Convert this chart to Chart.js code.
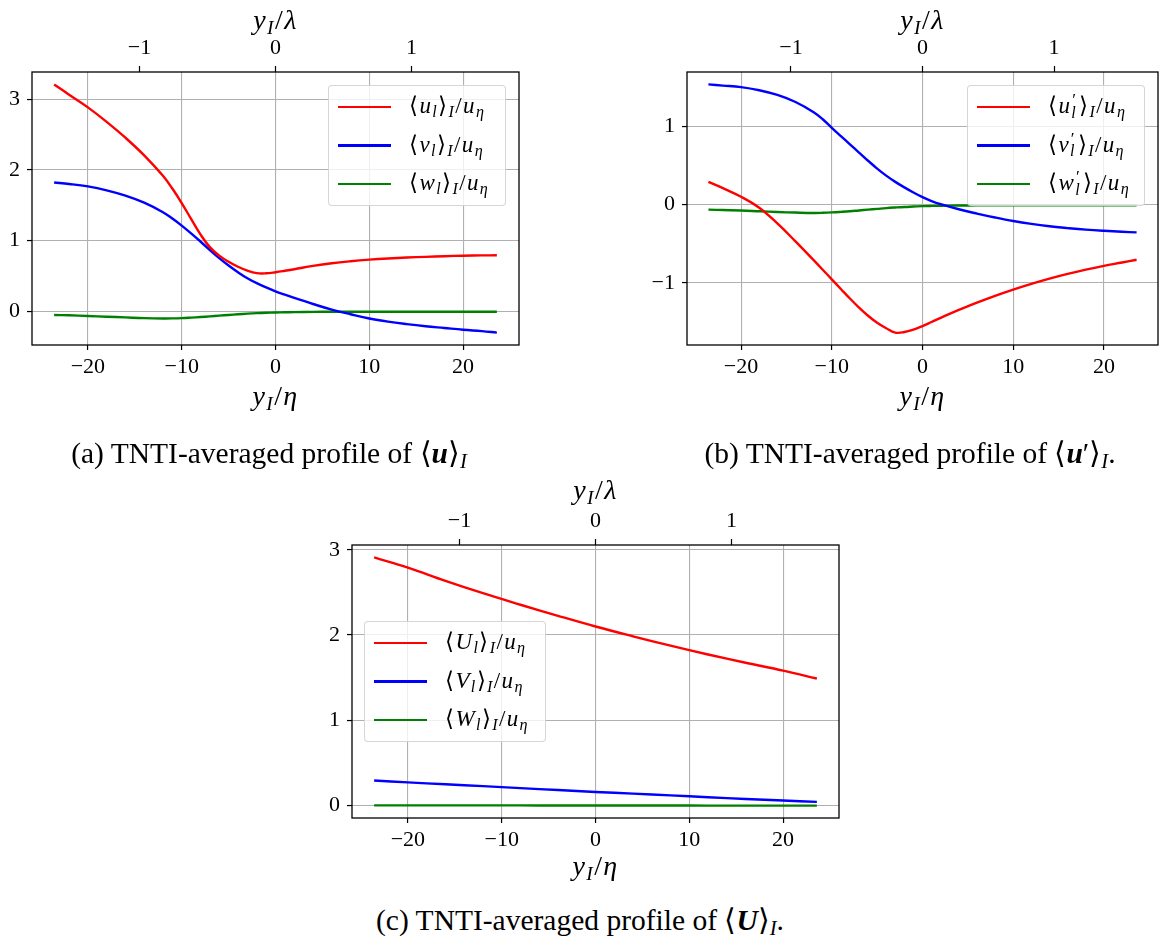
<!DOCTYPE html>
<html>
<head>
<meta charset="utf-8">
<script src="https://cdn.jsdelivr.net/npm/chart.js@4.4.0/dist/chart.umd.min.js"></script>
<style>
  body { margin: 0; background: #fff; width: 1161px; height: 945px; position: relative; overflow: hidden; font-family: "Liberation Serif", serif; }
  canvas { position: absolute; }
  .t { position: absolute; transform: translate(-50%, -50%); white-space: nowrap; color: #000; }
  .ax { font-size: 28px; font-style: italic; letter-spacing: 0.05em; }
  .cap { font-size: 29.5px; }
  .r { font-style: normal; }
  sub { font-size: 0.7em; vertical-align: -0.25em; line-height: 0; }
  .pl { display: inline-block; position: relative; width: 0.34em; height: 0; }
  .pl .p { position: absolute; left: 0.05em; top: -1.25em; font-style: normal; font-size: 0.75em; line-height: 1; }
  .pl .s { position: absolute; left: 0; top: -0.5em; font-size: 0.7em; line-height: 1; }
  .leg { position: absolute; background: rgba(255,255,255,0.8); border: 1px solid rgba(204,204,204,0.8); border-radius: 4px; box-sizing: border-box; }
  .sw { position: absolute; left: 9px; width: 53px; height: 2.5px; }
  .lt { position: absolute; left: 80px; transform: translateY(-55%); font-size: 23px; font-style: italic; letter-spacing: 0.06em; white-space: nowrap; }
</style>
</head>
<body>
<script>
// interface position y_I / eta, panels (a) and (b)
const xEta = [-23.6, -22, -20, -18, -16, -14, -12, -11, -10, -9, -8, -7, -6, -5, -4, -3, -2, -1, 0, 1, 2, 4, 6, 8, 10, 12, 14, 16, 18, 20, 22, 23.6];

// (a) <u_l>, <v_l>, <w_l>
const uMean = [3.21, 3.065, 2.885, 2.68, 2.455, 2.205, 1.915, 1.735, 1.53, 1.305, 1.085, 0.905, 0.785, 0.697, 0.627, 0.572, 0.537, 0.535, 0.55, 0.57, 0.592, 0.64, 0.678, 0.706, 0.728, 0.745, 0.758, 0.768, 0.777, 0.784, 0.788, 0.79];
const vMean = [1.82, 1.80, 1.765, 1.71, 1.635, 1.535, 1.40, 1.31, 1.21, 1.10, 0.985, 0.865, 0.75, 0.645, 0.55, 0.465, 0.395, 0.335, 0.28, 0.232, 0.186, 0.10, 0.02, -0.045, -0.105, -0.15, -0.185, -0.215, -0.24, -0.265, -0.285, -0.305];
const wMean = [-0.055, -0.06, -0.07, -0.08, -0.09, -0.10, -0.105, -0.104, -0.10, -0.093, -0.085, -0.075, -0.065, -0.055, -0.045, -0.037, -0.03, -0.025, -0.02, -0.017, -0.015, -0.012, -0.01, -0.01, -0.01, -0.01, -0.01, -0.01, -0.01, -0.01, -0.01, -0.01];

// (b) <u'_l>, <v'_l>, <w'_l>
const uFluc = [0.29, 0.21, 0.10, -0.04, -0.24, -0.47, -0.71, -0.832, -0.955, -1.078, -1.20, -1.315, -1.42, -1.51, -1.58, -1.635, -1.628, -1.597, -1.552, -1.50, -1.447, -1.345, -1.252, -1.165, -1.085, -1.012, -0.945, -0.885, -0.83, -0.782, -0.74, -0.705];
const vFluc = [1.535, 1.52, 1.50, 1.46, 1.40, 1.31, 1.18, 1.09, 0.98, 0.875, 0.77, 0.665, 0.56, 0.46, 0.37, 0.29, 0.22, 0.155, 0.095, 0.045, 0.005, -0.06, -0.115, -0.165, -0.21, -0.247, -0.277, -0.30, -0.32, -0.335, -0.347, -0.355];
const wFluc = [-0.065, -0.07, -0.075, -0.085, -0.095, -0.102, -0.107, -0.105, -0.10, -0.093, -0.085, -0.075, -0.065, -0.055, -0.045, -0.037, -0.03, -0.025, -0.02, -0.017, -0.015, -0.012, -0.01, -0.01, -0.01, -0.01, -0.01, -0.01, -0.01, -0.01, -0.01, -0.01];

// (c) <U_l>, <V_l>, <W_l>
const xEtaC = [-23.6, -20, -16, -12, -8, -4, 0, 4, 8, 12, 16, 20, 23.6];
const UMean = [2.91, 2.79, 2.635, 2.49, 2.355, 2.225, 2.10, 1.985, 1.875, 1.772, 1.675, 1.582, 1.49];
const VMean = [0.294, 0.272, 0.25, 0.228, 0.205, 0.182, 0.16, 0.14, 0.12, 0.098, 0.078, 0.059, 0.043];
const WMean = [0.002, 0.002, 0.002, 0.002, 0.002, 0.001, 0.001, 0.001, 0.001, 0.0, 0.0, 0.0, 0.0];

// tick labels
const etaTicks = [-20, -10, 0, 10, 20];
const lambdaTicks = [-1, 0, 1];
const yTicksA = [0, 1, 2, 3];
const yTicksB = [-1, 0, 1];
const yTicksC = [0, 1, 2, 3];
const etaPerLambda = 14.5;

const colors = ['#ff0000', '#0000ff', '#008000'];

function lbl(sym, prime) {
  const s = prime ? '<span class="pl"><span class="p">′</span><span class="s">l</span></span>' : '<sub>l</sub>';
  return '<span class="r">⟨</span>' + sym + s + '<span class="r">⟩</span><sub>I</sub><span class="r">/</span>u<sub>η</sub>';
}

const panels = [
  { left: 0, top: 0, w: 560, h: 420, yW: 32, topH: 72, botH: 75, padR: 41,
    x: xEta, series: [uMean, vMean, wMean], yTicks: yTicksA,
    names: [lbl('u'), lbl('v'), lbl('w')], leg: [328, 85, 178] },
  { left: 620, top: 0, w: 541, h: 420, yW: 67, topH: 72, botH: 75, padR: 3,
    x: xEta, series: [uFluc, vFluc, wFluc], yTicks: yTicksB,
    names: [lbl('u', true), lbl('v', true), lbl('w', true)], leg: [967, 85, 178] },
  { left: 300, top: 470, w: 560, h: 420, yW: 52, topH: 75, botH: 72, padR: 21,
    x: xEtaC, series: [UMean, VMean, WMean], yTicks: yTicksC,
    names: [lbl('U'), lbl('V'), lbl('W')], leg: [364, 621, 182] }
];

// draws the closed axes box like matplotlib spines
const frame = {
  id: 'frame',
  afterDatasetsDraw(c) {
    const a = c.chartArea, g = c.ctx;
    g.save();
    g.strokeStyle = '#000';
    g.lineWidth = 1.3;
    g.strokeRect(a.left, a.top, a.right - a.left, a.bottom - a.top);
    g.restore();
  }
};

const fmt = v => String(v).replace('-', '\u2212');
const serif = "'Liberation Serif', 'Times New Roman', serif";
Chart.defaults.font.family = serif;
Chart.defaults.font.size = 22;
Chart.defaults.color = '#000';

function addText(html, x, y, cls) {
  const d = document.createElement('div');
  d.className = 't ' + cls;
  d.style.left = x + 'px';
  d.style.top = y + 'px';
  d.innerHTML = html;
  document.body.appendChild(d);
  return d;
}

function draw() {
  panels.forEach(p => {
    const cv = document.createElement('canvas');
    cv.width = p.w; cv.height = p.h;
    cv.style.left = p.left + 'px'; cv.style.top = p.top + 'px';
    document.body.insertBefore(cv, document.body.firstChild);

    const all = p.series.flat();
    const lo = Math.min(...all), hi = Math.max(...all);
    const xlo = Math.min(...p.x), xhi = Math.max(...p.x);
    const ym = (hi - lo) * 0.05, xm = (xhi - xlo) * 0.05;
    const tickFont = { family: serif, size: 22 };

    const chart = new Chart(cv, {
      type: 'line',
      data: {
        datasets: p.series.map((s, i) => ({
          data: p.x.map((x, j) => ({ x: x, y: s[j] })),
          borderColor: colors[i],
          borderWidth: 2.4,
          pointRadius: 0,
          tension: 0.4,
          xAxisID: 'x', yAxisID: 'y'
        }))
      },
      options: {
        responsive: false,
        animation: false,
        events: [],
        layout: { padding: { left: 0, right: p.padR, top: 0, bottom: 0 } },
        plugins: { legend: { display: false }, tooltip: { enabled: false } },
        scales: {
          x: {
            type: 'linear', position: 'bottom', min: xlo - xm, max: xhi + xm,
            afterBuildTicks: s => { s.ticks = etaTicks.map(v => ({ value: v })); },
            afterFit: s => { s.height = p.botH; },
            border: { display: false },
            grid: { color: '#b0b0b0', lineWidth: 1.1, tickColor: '#000', tickLength: 5, tickWidth: 1.2 },
            ticks: { font: tickFont, color: '#000', padding: 4, maxRotation: 0, callback: fmt }
          },
          x2: {
            type: 'linear', position: 'top', min: (xlo - xm) / etaPerLambda, max: (xhi + xm) / etaPerLambda,
            afterBuildTicks: s => { s.ticks = lambdaTicks.map(v => ({ value: v })); },
            afterFit: s => { s.height = p.topH; },
            border: { display: false },
            grid: { drawOnChartArea: false, tickColor: '#000', tickLength: 6, tickWidth: 1.2 },
            ticks: { font: tickFont, color: '#000', padding: 5, maxRotation: 0, callback: fmt }
          },
          y: {
            type: 'linear', position: 'left', min: lo - ym, max: hi + ym,
            afterBuildTicks: s => { s.ticks = p.yTicks.map(v => ({ value: v })); },
            afterFit: s => { s.width = p.yW; },
            border: { display: false },
            grid: { color: '#b0b0b0', lineWidth: 1.1, tickColor: '#000', tickLength: 5, tickWidth: 1.2 },
            ticks: { font: tickFont, color: '#000', padding: 7, callback: fmt }
          }
        }
      },
      plugins: [frame]
    });

    const a = chart.chartArea;
    const cx = p.left + (a.left + a.right) / 2;
    addText('y<sub>I</sub><span class="r">/</span>λ', cx, p.top + 20, 'ax');
    addText('y<sub>I</sub><span class="r">/</span>η', cx, p.top + 396, 'ax');

    // legend box inside the axes
    const lg = document.createElement('div');
    lg.className = 'leg';
    lg.style.left = p.leg[0] + 'px'; lg.style.top = p.leg[1] + 'px';
    lg.style.width = p.leg[2] + 'px'; lg.style.height = '121px';
    p.names.forEach((n, i) => {
      const yy = 21 + i * 38.5;
      const sw = document.createElement('div');
      sw.className = 'sw';
      sw.style.top = (yy - 1.25) + 'px';
      sw.style.background = colors[i];
      lg.appendChild(sw);
      const tx = document.createElement('div');
      tx.className = 'lt';
      tx.style.top = yy + 'px';
      tx.innerHTML = n;
      lg.appendChild(tx);
    });
    document.body.appendChild(lg);
  });
}

addText('(a) TNTI-averaged profile of <span class="r">⟨</span><b><i>u</i></b><span class="r">⟩</span><sub><i>I</i></sub>', 269, 453, 'cap');
addText('(b) TNTI-averaged profile of <span class="r">⟨</span><b><i>u</i></b>′<span class="r">⟩</span><sub><i>I</i></sub>.', 910, 453, 'cap');
addText('(c) TNTI-averaged profile of <span class="r">⟨</span><b><i>U</i></b><span class="r">⟩</span><sub><i>I</i></sub>.', 580, 920, 'cap');

document.fonts.load('22px "Liberation Serif"').then(draw, draw);
</script>
</body>
</html>
